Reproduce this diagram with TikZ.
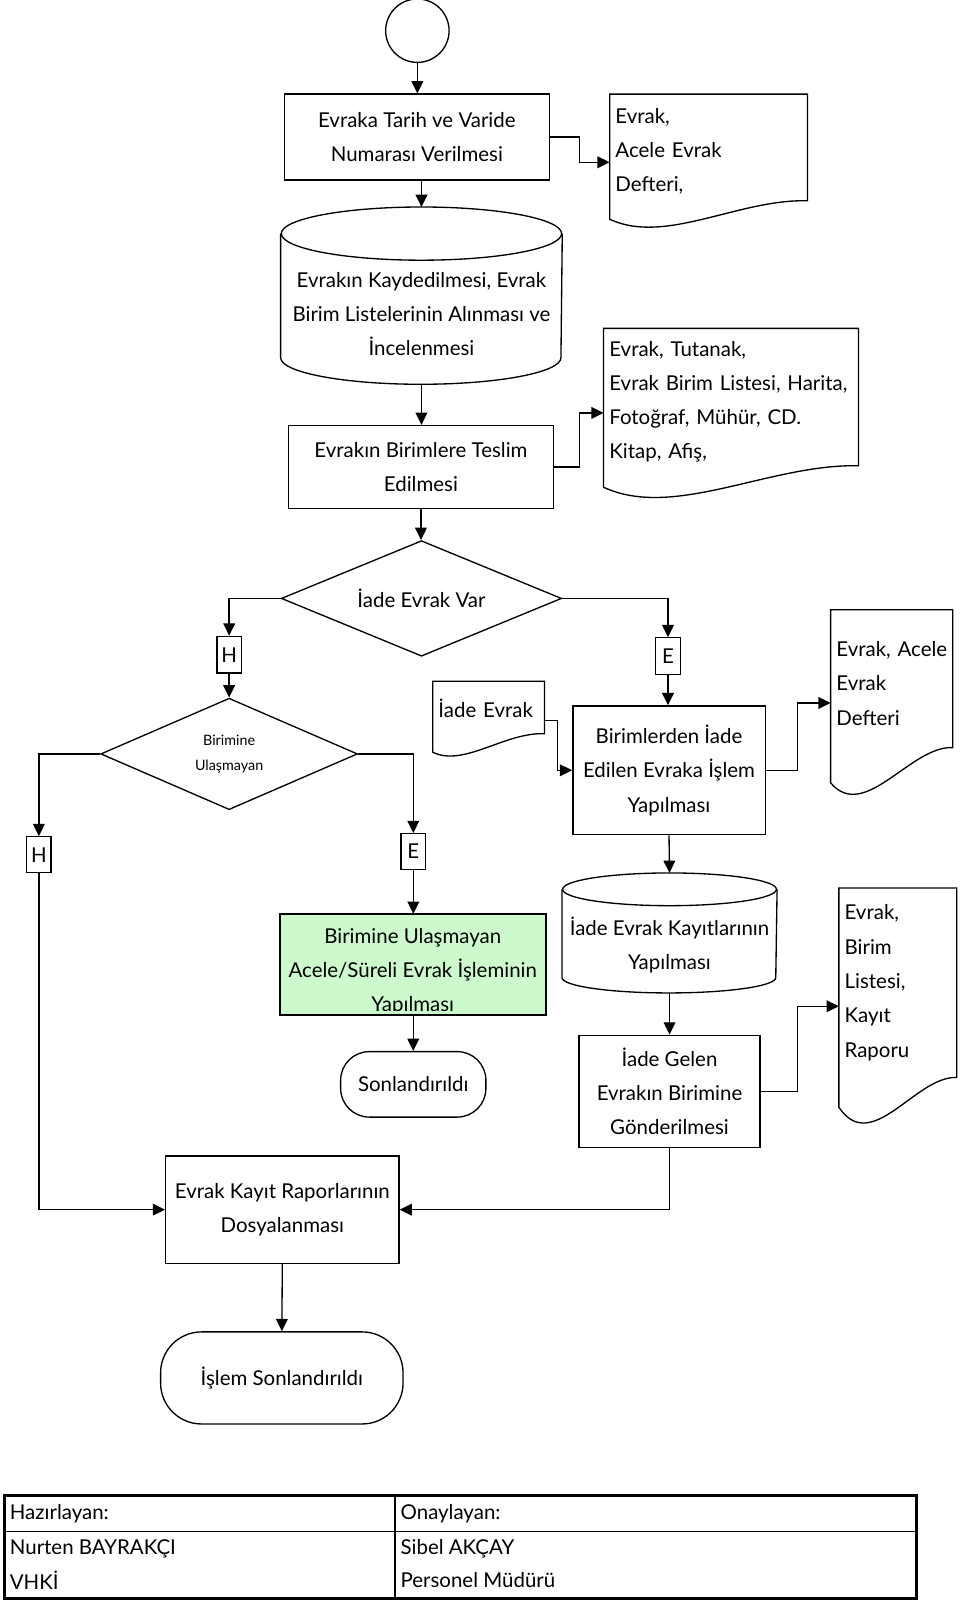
\documentclass[tikz,border=0pt]{standalone}
\usepackage{fontspec}
\setmainfont{Lato}
\usetikzlibrary{shapes.geometric,arrows.meta}
\definecolor{yesil}{RGB}{204,250,204}

\begin{document}
\begin{tikzpicture}[x=1pt,y=-1pt,line width=1.3pt,
    every node/.style={font=\fontsize{20}{33.5}\selectfont,inner sep=0pt},
    kutu/.style={draw,rectangle,align=center},
    belge/.style={rectangle,align=left,anchor=north west,inner xsep=5pt},
    karar/.style={draw,diamond,shape aspect=2.4,align=center},
    harf/.style={draw,rectangle,minimum width=24pt,minimum height=36pt},
    bitis/.style={draw,rectangle,align=center},
    tablo/.style={anchor=west,font=\fontsize{20}{22}\selectfont},
    ok/.style={-{Triangle[length=12pt,width=11.5pt]}}]
\useasboundingbox (0,0) rectangle (938,1568);

% baslangic
\node[draw,circle,minimum size=62pt] (bas) at (408,30) {};
\node[kutu,minimum width=259pt,minimum height=84pt] (p1) at (407.5,134) {Evraka Tarih ve Varide\\Numarası Verilmesi};

\node[belge,minimum width=192pt,minimum height=103pt,text width=182pt] (doc1) at (596,92) {\rule{0pt}{22pt}Evrak,\\Acele Evrak\\Defteri,};
\draw (doc1.north west) -- (doc1.north east) -- (doc1.south east) .. controls +(-67,-2) and +(54,25.5) .. ([yshift=-18pt]doc1.south west) -- cycle;

% veri tabani 1
\node[minimum width=274pt,minimum height=136pt,align=center] (k1) at (412,307) {Evrakın Kaydedilmesi, Evrak\\Birim Listelerinin Alınması ve\\İncelenmesi};
\draw ([yshift=10pt]k1.north west) -- ([yshift=26pt]k1.south west) arc[start angle=180,end angle=360,x radius=137pt,y radius=26pt] -- ([yshift=10pt]k1.north east);
\draw ([yshift=10pt]k1.north) ellipse [x radius=137pt,y radius=26pt];

\node[kutu,minimum width=259pt,minimum height=81pt] (p2) at (411.5,456.5) {Evrakın Birimlere Teslim\\Edilmesi};

\node[belge,minimum width=248pt,minimum height=133pt,text width=238pt] (doc2) at (590,321) {\rule{0pt}{24pt}Evrak, Tutanak,\\Evrak Birim Listesi, Harita,\\Fotoğraf, Mühür, CD.\\Kitap, Afiş,};
\draw (doc2.north west) -- (doc2.north east) -- (doc2.south east) .. controls +(-87,-2) and +(69,32) .. ([yshift=-21pt]doc2.south west) -- cycle;

% kararlar
\node[karar,minimum width=274pt,minimum height=113pt] (d1) at (412,585) {İade Evrak Var};
\node[harf] (h1) at (224,640) {H};
\node[harf] (e1) at (653,641.5) {E};

\node[karar,minimum width=251pt,minimum height=109pt,font=\fontsize{14}{25}\selectfont] (d2) at (224,737) {Birimine\\Ulaşmayan};
\node[harf,minimum height=35pt] (h2) at (38,835.5) {H};
\node[harf,minimum height=35pt] (e2) at (404,832.5) {E};

\node[kutu,fill=yesil,minimum width=259pt,minimum height=98pt] (g1) at (403.5,943) {};
\begin{scope}
\clip ([yshift=5pt]g1.south west) rectangle (g1.north east);
\node[align=center] (g1yazi) at ([yshift=-7pt]g1.center) {Birimine Ulaşmayan\\Acele/Süreli Evrak İşleminin\\Yapılması};
\end{scope}
\draw (g1.south west) rectangle (g1.north east);

\node[bitis,rounded corners=28pt,minimum width=142pt,minimum height=64pt] (son1) at (404,1060) {Sonlandırıldı};

% sag kol
\node[belge,minimum width=108pt,minimum height=50pt,text width=98pt] (doc3) at (423,666) {\rule{0pt}{20pt}İade Evrak};
\draw (doc3.north west) -- (doc3.north east) -- (doc3.south east) .. controls +(-38,-2) and +(30,15) .. ([yshift=-18pt]doc3.south west) -- cycle;

\node[kutu,minimum width=188pt,minimum height=126pt] (p3) at (654,753) {Birimlerden İade\\Edilen Evraka İşlem\\Yapılması};

\node[belge,minimum width=118pt,minimum height=133.5pt,text width=108pt] (doc4) at (812,596) {\rule{0pt}{24pt}\mbox{Evrak, Acele}\\Evrak\\Defteri};
\draw (doc4.north west) -- (doc4.north east) -- (doc4.south east) .. controls +(-41,-2) and +(33,39) .. ([yshift=-34.5pt]doc4.south west) -- cycle;

% veri tabani 2
\node[minimum width=209pt,minimum height=92pt,align=center] (k2) at (654.5,924) {İade Evrak Kayıtlarının\\Yapılması};
\draw ([yshift=8pt]k2.north west) -- ([yshift=15pt]k2.south west) arc[start angle=180,end angle=360,x radius=104.5pt,y radius=15pt] -- ([yshift=8pt]k2.north east);
\draw ([yshift=8pt]k2.north) ellipse [x radius=104.5pt,y radius=16pt];

\node[kutu,minimum width=177pt,minimum height=110pt] (p4) at (654.5,1067) {İade Gelen\\Evrakın Birimine\\Gönderilmesi};

\node[belge,minimum width=114pt,minimum height=184pt,text width=104pt] (doc5) at (820,868) {Evrak,\\Birim\\Listesi,\\Kayıt\\Raporu};
\draw (doc5.north west) -- (doc5.north east) -- (doc5.south east) .. controls +(-40,-2) and +(32,48) .. ([yshift=-29pt]doc5.south west) -- cycle;

% son
\node[kutu,minimum width=228pt,minimum height=105pt] (p5) at (276,1182.5) {Evrak Kayıt Raporlarının\\Dosyalanması};
\node[bitis,rounded corners=40pt,minimum width=237pt,minimum height=90pt] (son2) at (275.5,1347) {İşlem Sonlandırıldı};

% oklar
\draw[ok] (bas.south) -- (bas.south |- p1.north);
\draw[ok] (p1.east) -- ++(29,0) |- ([yshift=-14.5pt]doc1.west);
\draw[ok] (p1.south -| k1.north) -- ([yshift=36pt]k1.north);
\draw[ok] (k1.south) -- (k1.south |- p2.north);
\draw[ok] (p2.east) -- ++(25,0) |- ([yshift=-15.5pt]doc2.west);
\draw[ok] (p2.south) -- (p2.south |- d1.north);
\draw[ok] (d1.west) -| (h1.north);
\draw[ok] (d1.east) -| (e1.north);
\draw[ok] (h1.south) -- (d2.north);
\draw[ok] (d2.west) -| (h2.north);
\draw[ok] (d2.east) -| (e2.north);
\draw[ok] (e2.south) -- (e2.south |- g1.north);
\draw[ok] (g1.south -| son1.north) -- (son1.north);
\draw[ok] (e1.south) -- (e1.south |- p3.north);
\draw[ok] ([yshift=-12.5pt]doc3.east) -- ++(13,0) |- (p3.west);
\draw[ok] (p3.east) -- ++(31,0) |- ([yshift=-23.75pt]doc4.west);
\draw[ok] (p3.south) -- ([yshift=24pt]k2.north);
\draw[ok] (k2.south) -- (k2.south |- p4.north);
\draw[ok] (p4.east) -- ++(36,0) |- ([yshift=-23pt]doc5.west);
\draw[ok] (p4.south) |- (p5.east);
\draw[ok] (h2.south) |- (p5.west);
\draw[ok] (p5.south) -- (son2.north);

% imza tablosu
\draw[line width=3pt] (4,1462) rectangle (896,1563);
\draw[line width=1.5pt] (4,1497) -- (896,1497);
\draw[line width=2.5pt] (386,1462) -- (386,1563);
\node[tablo] (t1) at (9,1480) {Hazırlayan:};
\node[tablo] (t2) at (9,1514) {Nurten BAYRAKÇI};
\node[tablo] (t3) at (9,1545) {VHKİ};
\node[tablo] (t4) at (391,1480) {Onaylayan:};
\node[tablo] (t5) at (391,1514) {Sibel AKÇAY};
\node[tablo] (t6) at (391,1545) {Personel Müdürü};
\end{tikzpicture}
\end{document}
